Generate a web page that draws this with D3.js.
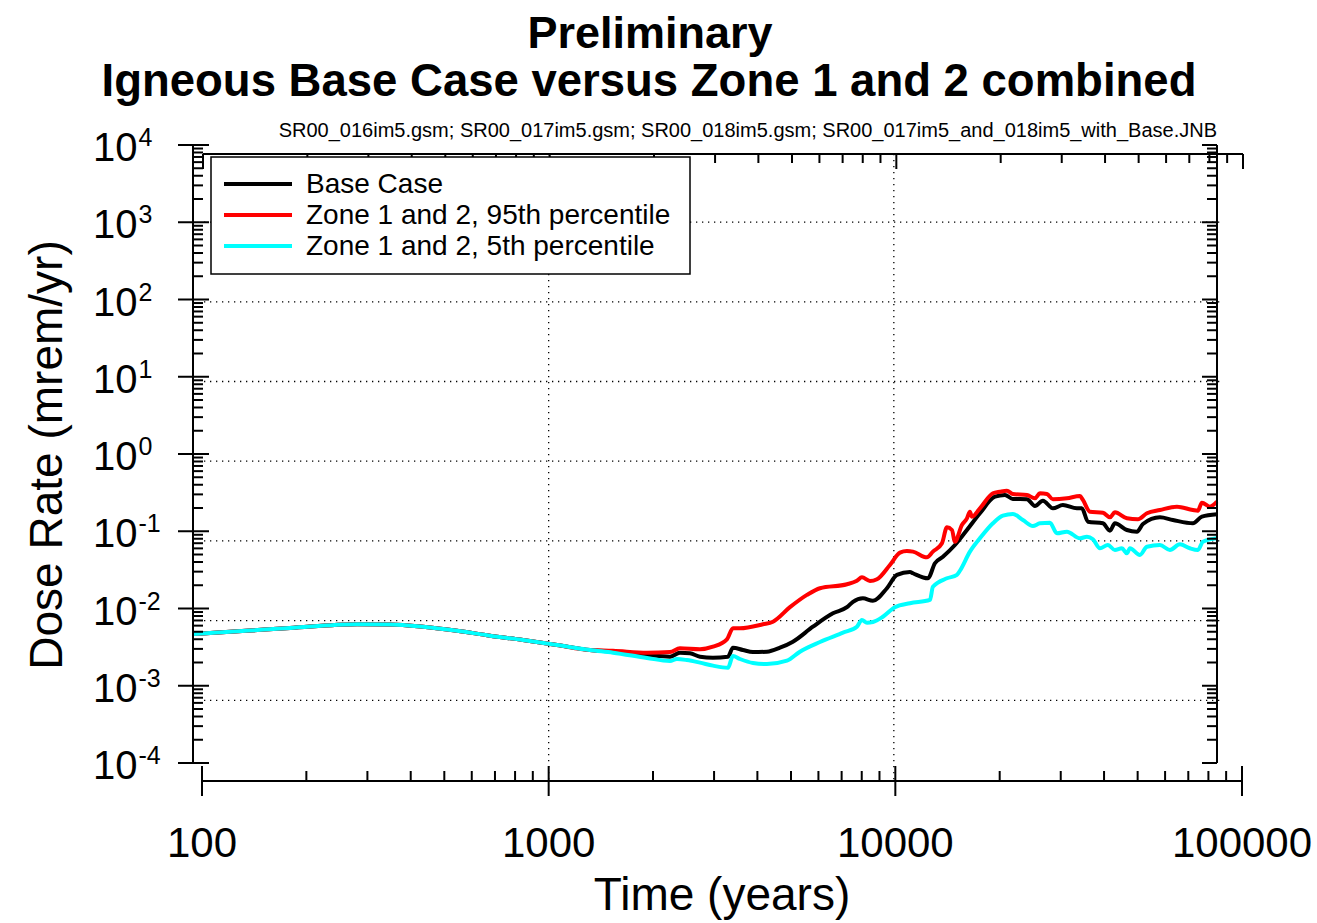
<!DOCTYPE html>
<html><head><meta charset="utf-8">
<script src="https://cdn.jsdelivr.net/npm/d3@7"></script>
<style>body{margin:0;background:#fff}svg{display:block;font-family:Arial,"Liberation Sans",Helvetica,sans-serif}</style>
</head><body><svg id="c" width="1317" height="923"></svg>
<script>
// ---- data ----
const titleLines = ["Preliminary", "Igneous Base Case versus Zone 1 and 2 combined"];
const fileNote = "SR00_016im5.gsm; SR00_017im5.gsm; SR00_018im5.gsm; SR00_017im5_and_018im5_with_Base.JNB";
const xLabel = "Time (years)";
const yLabel = "Dose Rate (mrem/yr)";
const seriesNames = ["Base Case", "Zone 1 and 2, 95th percentile", "Zone 1 and 2, 5th percentile"];
const seriesColors = ["#000000", "#ff0000", "#00ffff"];
const xTickValues = [100, 1000, 10000, 100000];
const xTickLabels = ["100", "1000", "10000", "100000"];
const yTickExponents = [4, 3, 2, 1, 0, -1, -2, -3, -4];

// shared early segment (all three curves coincide)
const commonTime = [94.2, 137.6, 179.4, 280, 348.6, 434, 544, 677, 843, 1057, 1315];
const commonDose = [4.68e-3, 5.19e-3, 5.59e-3, 6.25e-3, 6.21e-3, 5.81e-3, 5.16e-3, 4.45e-3, 3.91e-3, 3.37e-3, 2.90e-3];

const baseTime = [1533, 1921, 2238, 2391, 2556, 2732, 2978, 3290, 3401, 3634, 3884, 4263, 4647, 5065, 5784, 6607, 7253, 7548, 8062, 8618, 9458, 10107, 11020, 11240, 12417, 13007, 13720, 14856, 16090, 17539, 19380, 20710, 21833, 23965, 25270, 26650, 28480, 30430, 33400, 34530, 35940, 39700, 41590, 42990, 46560, 49760, 51790, 57990, 63190, 72170, 76620, 84650];
const baseDose = [2.76e-3, 2.50e-3, 2.38e-3, 2.68e-3, 2.63e-3, 2.38e-3, 2.31e-3, 2.38e-3, 3.11e-3, 2.90e-3, 2.73e-3, 2.76e-3, 3.11e-3, 3.72e-3, 5.81e-3, 8.67e-3, 1.04e-2, 1.22e-2, 1.355e-2, 1.26e-2, 1.83e-2, 2.72e-2, 2.97e-2, 2.86e-2, 2.46e-2, 3.85e-2, 4.68e-2, 6.64e-2, 0.1038, 0.1708, 0.280, 0.2946, 0.2615, 0.26, 0.2123, 0.2486, 0.198, 0.2187, 0.198, 0.198, 0.133, 0.1267, 0.1017, 0.1267, 0.1038, 0.0987, 0.124, 0.1516, 0.1398, 0.1267, 0.1543, 0.1657];

const highTime = [1533, 1921, 2238, 2391, 2732, 2978, 3268, 3401, 3563, 4150, 4436, 4966, 5559, 6062, 7253, 7748, 8010, 8450, 8850, 9647, 10310, 10800, 11240, 12335, 12835, 13630, 14088, 14565, 14856, 15560, 16090, 16414, 16630, 17539, 19119, 20030, 20980, 21833, 23965, 25270, 26126, 27370, 28480, 31260, 34082, 34760, 36420, 39700, 41590, 42990, 46560, 50090, 53180, 57990, 64900, 72170, 74620, 76620, 80800, 84650];
const highDose = [2.84e-3, 2.68e-3, 2.73e-3, 3.05e-3, 2.96e-3, 3.20e-3, 3.99e-3, 5.54e-3, 5.54e-3, 6.25e-3, 6.75e-3, 1.04e-2, 1.50e-2, 1.83e-2, 2.06e-2, 2.29e-2, 2.53e-2, 2.27e-2, 2.39e-2, 3.66e-2, 5.28e-2, 5.55e-2, 5.45e-2, 4.60e-2, 5.45e-2, 6.98e-2, 0.1125, 0.1038, 0.0732, 0.1205, 0.147, 0.179, 0.1543, 0.198, 0.310, 0.325, 0.335, 0.3035, 0.2946, 0.267, 0.310, 0.3035, 0.2593, 0.267, 0.286, 0.254, 0.179, 0.1738, 0.1516, 0.176, 0.147, 0.1428, 0.1708, 0.1884, 0.2079, 0.1884, 0.1845, 0.234, 0.2079, 0.241];

const lowTime = [1533, 1921, 2238, 2344, 2505, 2732, 2978, 3290, 3401, 3563, 3884, 4263, 4868, 5306, 6062, 7063, 7748, 8010, 8282, 8618, 9209, 9973, 11020, 12586, 12835, 14088, 15054, 15356, 16414, 17539, 19119, 20430, 21833, 23335, 24936, 26126, 27920, 29250, 31260, 34082, 35700, 37150, 38920, 41040, 42990, 45040, 46560, 47500, 50760, 53180, 57990, 61940, 66210, 70740, 74620, 77140, 84650];
const lowDose = [2.68e-3, 2.29e-3, 2.09e-3, 2.22e-3, 2.15e-3, 1.99e-3, 1.82e-3, 1.71e-3, 2.43e-3, 2.22e-3, 1.97e-3, 1.91e-3, 2.11e-3, 2.76e-3, 3.68e-3, 4.86e-3, 5.81e-3, 7.10e-3, 6.55e-3, 6.69e-3, 7.83e-3, 1.04e-2, 1.17e-2, 1.29e-2, 1.91e-2, 2.46e-2, 2.72e-2, 3.08e-2, 5.44e-2, 8.10e-2, 0.1267, 0.159, 0.167, 0.1398, 0.117, 0.1267, 0.129, 0.0941, 0.0987, 0.081, 0.085, 0.0787, 0.0602, 0.0664, 0.0572, 0.0602, 0.0518, 0.0602, 0.0493, 0.0631, 0.0664, 0.0572, 0.0678, 0.0602, 0.0572, 0.0732, 0.081];

// ---- build ----
const svg = d3.select("#c");

const x = d3.scaleLog().domain([100, 100000]).range([202, 1242]);
const y = d3.scaleLog().domain([1e-4, 1e4]).range([763, 145]);
const gx = d3.scaleLog().domain([100, 100000]).range([203.5, 1239]);
const gy = d3.scaleLog().domain([1e-4, 1e4]).range([780, 142.4]);

const frameL = 193, frameR = 1217, xAxisY = 781, topAxisY = 154;

// minor tick values
const xMinor = [], yMinor = [];
for (let d = 100; d < 100000; d *= 10) for (let k = 2; k <= 9; k++) xMinor.push(d * k);
for (let e = -4; e < 4; e++) for (let k = 2; k <= 9; k++) yMinor.push(k * Math.pow(10, e));
const yMajor = yTickExponents.map(e => Math.pow(10, e));

// grid (dotted)
const grid = svg.append("g").attr("stroke", "#000").attr("stroke-width", 1.3).attr("stroke-dasharray", "1.3,4.7");
[1e-3, 1e-2, 1e-1, 1, 10, 100, 1000].forEach(v => {
  grid.append("line").attr("x1", 204).attr("x2", 1222).attr("y1", gy(v)).attr("y2", gy(v));
});
[1000, 10000].forEach(v => {
  grid.append("line").attr("x1", gx(v)).attr("x2", gx(v)).attr("y1", topAxisY).attr("y2", 784);
});

// curves
const line = d3.line().x(d => x(d[0])).y(d => y(d[1])).curve(d3.curveMonotoneX);
const mk = (t, v) => commonTime.map((tt, i) => [tt, commonDose[i]]).concat(t.map((tt, i) => [tt, v[i]]));
const series = [mk(baseTime, baseDose), mk(highTime, highDose), mk(lowTime, lowDose)];
[0, 1, 2].forEach(i => {
  svg.append("path").datum(series[i]).attr("d", line).attr("fill", "none")
    .attr("stroke", seriesColors[i]).attr("stroke-width", 4).attr("stroke-linejoin", "round");
});

// axes
const ax = svg.append("g").attr("stroke", "#000").attr("stroke-width", 2);
// left
ax.append("line").attr("x1", frameL).attr("x2", frameL).attr("y1", y(1e4)).attr("y2", y(1e-4));
yMajor.forEach(v => ax.append("line").attr("x1", 178).attr("x2", 209).attr("y1", y(v)).attr("y2", y(v)));
yMinor.forEach(v => ax.append("line").attr("x1", frameL).attr("x2", frameL + 10).attr("y1", y(v)).attr("y2", y(v)));
// right
ax.append("line").attr("x1", frameR).attr("x2", frameR).attr("y1", y(1e4)).attr("y2", y(1e-4));
yMajor.forEach(v => ax.append("line").attr("x1", frameR - 15).attr("x2", frameR).attr("y1", y(v)).attr("y2", y(v)));
yMinor.forEach(v => ax.append("line").attr("x1", frameR - 10).attr("x2", frameR).attr("y1", y(v)).attr("y2", y(v)));
// bottom
ax.append("line").attr("x1", x(100)).attr("x2", x(100000)).attr("y1", xAxisY).attr("y2", xAxisY);
xTickValues.forEach(v => ax.append("line").attr("x1", x(v)).attr("x2", x(v)).attr("y1", xAxisY - 15).attr("y2", xAxisY + 15));
xMinor.forEach(v => ax.append("line").attr("x1", x(v)).attr("x2", x(v)).attr("y1", xAxisY - 10).attr("y2", xAxisY));
// top
ax.append("line").attr("x1", x(100) + 1).attr("x2", x(100000) + 1).attr("y1", topAxisY).attr("y2", topAxisY);
xTickValues.forEach(v => ax.append("line").attr("x1", x(v) + 1).attr("x2", x(v) + 1).attr("y1", topAxisY).attr("y2", topAxisY + 15));
xMinor.forEach(v => ax.append("line").attr("x1", x(v) + 1).attr("x2", x(v) + 1).attr("y1", topAxisY).attr("y2", topAxisY + 9));

// tick labels
xTickValues.forEach((v, i) => {
  svg.append("text").attr("x", x(v)).attr("y", 857).attr("text-anchor", "middle")
    .attr("font-size", 42).text(xTickLabels[i]);
});
yTickExponents.forEach(e => {
  const t = svg.append("text").attr("x", 93).attr("y", y(Math.pow(10, e)) + 16).attr("text-anchor", "start")
    .attr("font-size", 40);
  t.append("tspan").text("10");
  t.append("tspan").attr("dy", -15).attr("dx", 1).attr("font-size", 25).text(String(e));
});

// axis titles
svg.append("text").attr("x", 722).attr("y", 910).attr("text-anchor", "middle").attr("font-size", 46).text(xLabel);
svg.append("text").attr("transform", "translate(62,455) rotate(-90)").attr("text-anchor", "middle")
  .attr("font-size", 46).text(yLabel);

// titles
svg.append("text").attr("x", 650).attr("y", 48).attr("text-anchor", "middle").attr("font-size", 45)
  .attr("font-weight", "bold").text(titleLines[0]);
svg.append("text").attr("x", 649).attr("y", 96).attr("text-anchor", "middle").attr("font-size", 45.5)
  .attr("font-weight", "bold").text(titleLines[1]);
svg.append("text").attr("x", 1217).attr("y", 137).attr("text-anchor", "end").attr("font-size", 20)
  .text(fileNote);

// legend
const lg = svg.append("g");
lg.append("rect").attr("x", 211).attr("y", 157).attr("width", 479).attr("height", 117)
  .attr("fill", "#fff").attr("stroke", "#000").attr("stroke-width", 1.5);
seriesNames.forEach((n, i) => {
  const yy = 184 + i * 31;
  lg.append("line").attr("x1", 224).attr("x2", 292).attr("y1", yy).attr("y2", yy)
    .attr("stroke", seriesColors[i]).attr("stroke-width", 4);
  lg.append("text").attr("x", 306).attr("y", yy + 9).attr("font-size", 28).text(n);
});
</script></body></html>
